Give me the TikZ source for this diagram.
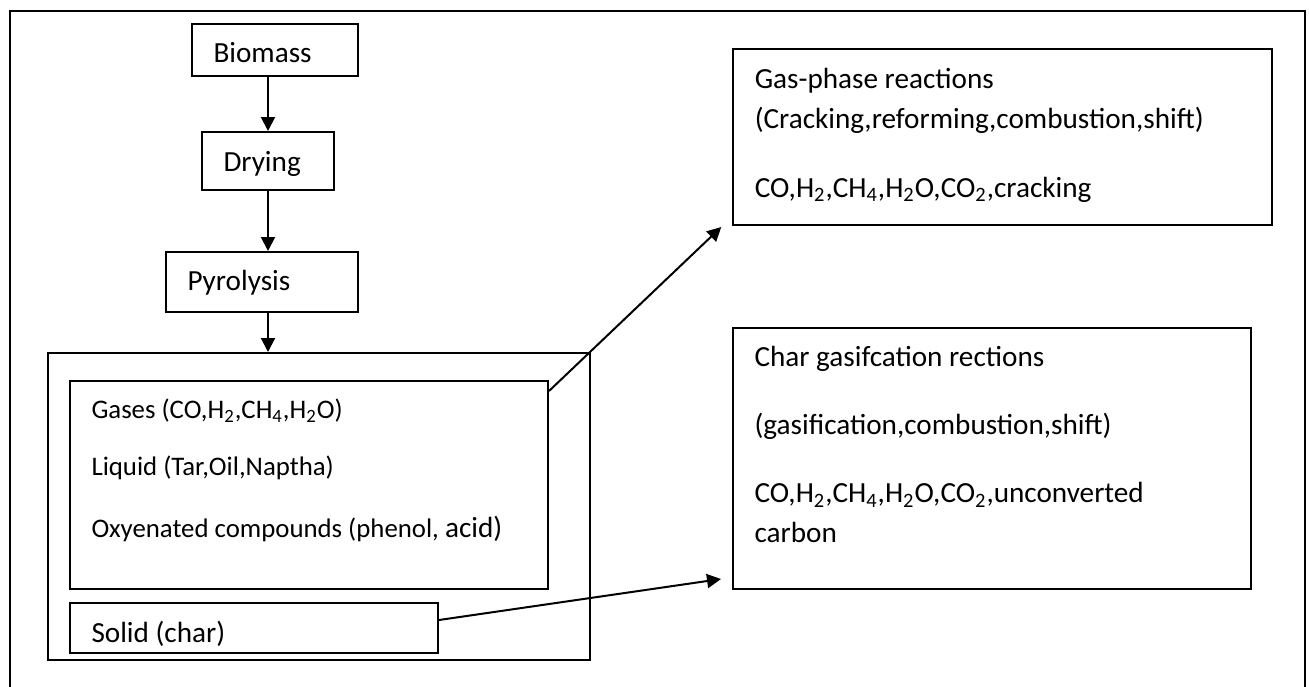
\documentclass[tikz,border=0pt]{standalone}
\usepackage{fontspec}
\setmainfont{Carlito}
\usetikzlibrary{arrows.meta,calc}
\newcommand{\chemsub}[1]{\textsubscript{#1}}
\begin{document}
\begin{tikzpicture}[x=0.5pt,y=-0.5pt,
  box/.style={draw,line width=1pt,inner ysep=0pt,inner xsep=10.75pt,align=left,
              font=\fontsize{14.6}{20}\selectfont,
              execute at begin node={\spaceskip=0pt\xspaceskip=0pt}},
  arr/.style={line width=1pt,-{Triangle[length=7pt,width=7pt]}}]
\useasboundingbox (0,0) rectangle (1309,686);
% outer frame (runs off the bottom of the page)
\draw[line width=0.8pt] (10,690) -- (10,11) -- (1305,11) -- (1305,690);

% main process column
\node[box,text width=61.5pt,text height=19.15pt,text depth=6.85pt] (bio) at (275,50) {Biomass};
\node[box,text width=44.5pt,text height=19.85pt,text depth=9.15pt] (dry) at (268,161) {Drying};
\node[box,text width=74.5pt,text height=19pt,text depth=11pt] (pyr) at (262,282) {Pyrolysis};

% pyrolysis products
\node[draw,line width=1pt,minimum width=271pt,minimum height=153.5pt,inner sep=0pt] (prod) at (319,506.5) {};
\node[box,text width=217.5pt,text height=18.5pt,text depth=85.5pt,
      font=\fontsize{13.4}{28.5}\selectfont] (gases) at (309,485)
  {Gases (CO,H\chemsub{2},CH\chemsub{4},H\chemsub{2}O)\\
   Liquid (Tar,Oil,Naptha)\\[2.5pt]
   Oxyenated compounds (phenol, {\fontsize{14.6}{28.5}\selectfont acid)}};
\node[box,text width=162.5pt,text height=19.5pt,text depth=5.5pt] (solid) at (254,628) {Solid (char)};

% reaction boxes
\node[box,text width=248pt,text height=19.65pt,text depth=68.35pt] (gasph) at (1002.75,137)
  {Gas-phase reactions\\
   (Cracking,reforming,combustion,shift)\\[14.5pt]
   CO,H\chemsub{2},CH\chemsub{4},H\chemsub{2}O,CO\chemsub{2},cracking};
\node[box,text width=237.5pt,text height=19.35pt,text depth=111.15pt] (char) at (992,458.5)
  {Char gasifcation rections\\[14pt]
   (gasification,combustion,shift)\\[14pt]
   CO,H\chemsub{2},CH\chemsub{4},H\chemsub{2}O,CO\chemsub{2},unconverted\\
   carbon};

% connectors
\draw[arr] (dry.north |- bio.south) -- (dry.north);
\draw[arr] (dry.south) -- (dry.south |- pyr.north);
\draw[arr] (dry.south |- pyr.south) -- (dry.south |- prod.north);
\coordinate (gtip) at ($(gasph.south west)+(-11,1)$);
\draw[arr] ($(gases.north east)+(0,11)$) -- (gtip);
\coordinate (ctip) at ($(char.south west)+(-11,-11)$);
\draw[arr] ($(solid.east)+(0,-8)$) -- (ctip);
\end{tikzpicture}
\end{document}
